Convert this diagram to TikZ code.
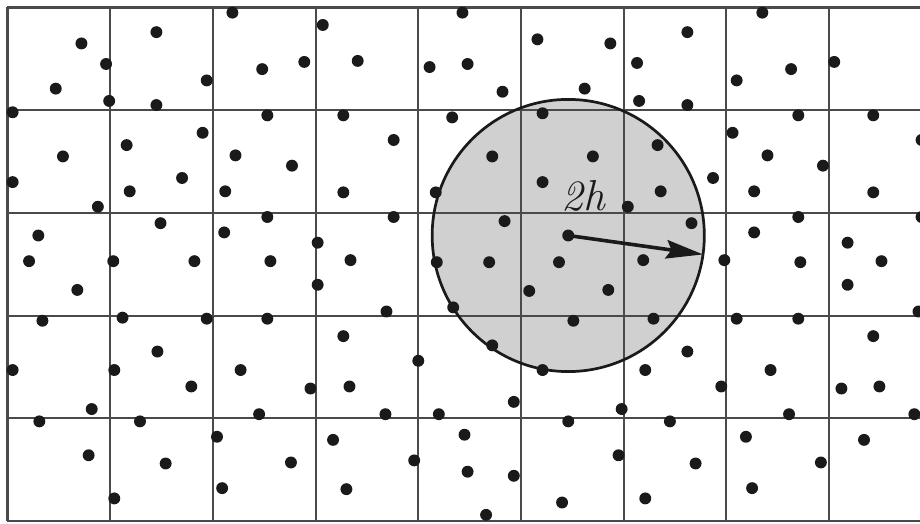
\documentclass[tikz,border=0pt]{standalone}
\usetikzlibrary{arrows.meta}
\definecolor{ink}{HTML}{1A1A1A}
\definecolor{gridline}{HTML}{4A4A4A}
\definecolor{diskfill}{HTML}{D0D0D0}

\begin{document}
\begin{tikzpicture}[
  cell/.style={draw=gridline, line width=0.6pt},
  disk/.style={fill=diskfill},
  rim/.style={draw=ink, line width=0.75pt},
  dot/.style={fill=ink},
  radius arrow/.style={-{Stealth[length=3.6mm,width=1.8mm,inset=0.5mm]}, draw=ink, line width=1pt},
  note/.style={font=\fontsize{12}{14}\selectfont\itshape, text=ink, inner sep=0pt}
]
\useasboundingbox (-0.073,-0.02) rectangle (8.885,5.073);
\clip (-0.073,-0.02) rectangle (8.885,5.073);

% Search disk of radius 2h
\coordinate (ctr) at (5.46,2.78);
\fill[disk] (ctr) circle (1.325);

% Cell grid
\foreach \r in {0,...,5}
  \draw[cell] (0,\r) -- (9,\r);
\foreach \c in {0,...,8}
  \draw[cell] (\c,0) -- (\c,5);

\draw[rim] (ctr) circle (1.325);

% Particles
\foreach \x/\y in {
  2.19/4.95, 1.45/4.76, 0.72/4.65, 0.96/4.45, 2.48/4.40, 2.89/4.47, 1.94/4.29, 0.47/4.21,
  0.99/4.09, 1.45/4.05, 0.05/3.98, 2.53/3.95, 1.90/3.78, 1.16/3.66, 0.54/3.55, 2.22/3.56,
  2.77/3.46, 0.05/3.30, 1.70/3.34, 1.19/3.21, 2.12/3.21, 0.88/3.06, 1.49/2.90, 2.53/2.96,
  0.30/2.78, 2.11/2.81, 0.21/2.53, 1.03/2.53, 1.82/2.53, 2.56/2.53,
  4.43/4.95, 3.07/4.83, 5.16/4.69, 5.87/4.65, 3.41/4.48, 4.11/4.42, 4.48/4.45, 4.82/4.18,
  5.62/4.21, 3.27/3.95, 4.33/3.93, 5.21/3.97, 3.76/3.71, 4.72/3.55, 5.70/3.55, 3.27/3.20,
  4.17/3.20, 5.21/3.30, 3.76/2.96, 4.84/2.92, 5.46/2.78, 3.02/2.71, 3.34/2.54, 4.18/2.52,
  4.69/2.52, 5.37/2.52,
  7.35/4.95, 6.62/4.76, 6.13/4.46, 8.05/4.47, 7.63/4.40, 7.10/4.29, 6.15/4.09, 6.62/4.05,
  7.70/3.95, 8.43/3.95, 8.90/3.71, 7.06/3.78, 6.33/3.66, 7.40/3.56, 7.94/3.46, 6.87/3.34,
  6.36/3.21, 7.27/3.21, 8.43/3.20, 6.04/3.06, 6.66/2.90, 7.70/2.96, 8.90/2.96, 7.27/2.81,
  8.18/2.71, 6.19/2.54, 6.98/2.54, 7.72/2.52, 8.51/2.53,
  0.68/2.25, 0.34/1.95, 1.12/1.98, 1.94/1.97, 2.53/1.97, 1.46/1.65, 0.05/1.47, 1.04/1.47,
  2.27/1.47, 1.79/1.31, 2.95/1.29, 0.82/1.09, 2.45/1.04, 0.31/0.97, 1.29/0.97, 2.04/0.82,
  0.79/0.64, 1.54/0.56, 2.76/0.57, 2.09/0.32, 1.04/0.22,
  3.02/2.30, 5.08/2.24, 5.85/2.25, 3.69/2.04, 4.34/2.08, 5.51/1.95, 3.27/1.80, 4.72/1.71,
  5.21/1.47, 4.00/1.56, 3.33/1.31, 4.93/1.16, 3.68/1.04, 4.20/1.04, 5.46/0.97, 3.17/0.79,
  4.45/0.84, 3.96/0.59, 4.48/0.48, 4.93/0.44, 3.30/0.31, 5.40/0.18, 4.66/0.06,
  8.18/2.30, 6.29/1.97, 7.10/1.97, 7.70/1.97, 8.87/2.04, 8.43/1.80, 6.62/1.65, 6.21/1.47,
  7.43/1.47, 6.95/1.31, 8.12/1.29, 8.49/1.31, 5.98/1.09, 7.61/1.04, 8.83/1.04, 6.45/0.97,
  7.19/0.82, 8.34/0.79, 5.95/0.64, 6.70/0.56, 7.92/0.57, 7.25/0.32, 6.21/0.22}
  \fill[dot] (\x,\y) circle (0.058);

% Radius arrow and label
\path (ctr) ++(-8:1.325) coordinate (tip);
\draw[radius arrow] (ctr) -- (tip);
\node[note] (radlabel) at (5.61,3.17) {2h};

\end{tikzpicture}
\end{document}
